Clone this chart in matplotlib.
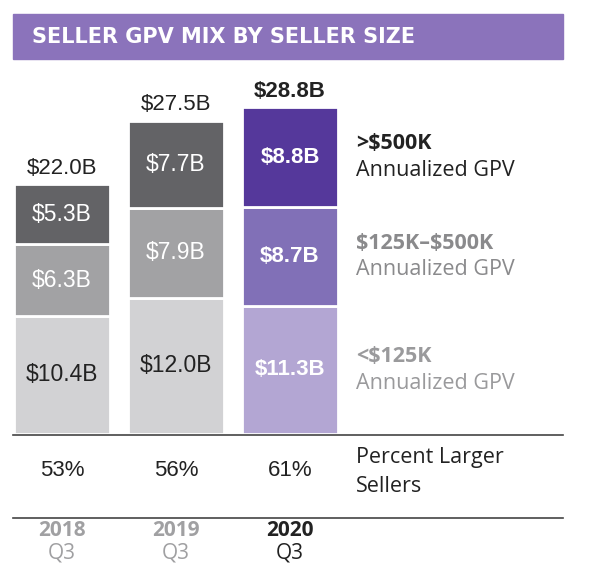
import matplotlib
matplotlib.use("Agg")
import matplotlib.pyplot as plt
from matplotlib.patches import Rectangle

# data
years = ["2018", "2019", "2020"]
quarters = ["Q3", "Q3", "Q3"]
small = [10.4, 12.0, 11.3]      # <$125K
mid = [6.3, 7.9, 8.7]           # $125K-$500K
large = [5.3, 7.7, 8.8]         # >$500K
totals = ["\\$22.0B", "\\$27.5B", "\\$28.8B"]
pct_larger = ["53%", "56%", "61%"]
seg_names = [">\\$500K", "\\$125K\u2013\\$500K", "<\\$125K"]

gray_cols = ["#d2d2d4", "#a2a2a4", "#636366"]
purple_cols = ["#b3a6d3", "#8170b7", "#55389b"]

W, H = 611, 580
fig = plt.figure(figsize=(W / 100, H / 100), dpi=100)
left, right, bottom, top = 13, 563, 434, 59
ax = fig.add_axes([left / W, 1 - bottom / H, (right - left) / W, (bottom - top) / H])
ax.set_xlim(-0.43, -0.43 + 550 / 114)
ax.set_ylim(0, 375 / 11.35)
ax.axis("off")

num_font = "Liberation Sans"
lab_font = "Open Sans"
bw = 0.84

def yfrac(ypix):
    return (bottom - ypix) / (bottom - top)

for i in range(3):
    cols = purple_cols if i == 2 else gray_cols
    segs = [small[i], mid[i], large[i]]
    base = 0
    for j, h in enumerate(segs):
        ax.bar(i, h, bottom=base, width=bw, color=cols[j], edgecolor="white", linewidth=2)
        if i == 2:
            ax.text(i, base + h / 2, f"\\${h:.1f}B", ha="center", va="center", color="white",
                    fontsize=16, fontweight="bold", family=num_font)
        else:
            tc = "#222222" if j == 0 else "white"
            ax.text(i, base + h / 2, f"\\${h:.1f}B", ha="center", va="center", color=tc,
                    fontsize=16.5, family=num_font)
        base += h
    ax.annotate(totals[i], xy=(i, base), xytext=(0, 4), textcoords="offset points",
                ha="center", va="bottom", fontsize=16,
                fontweight="bold" if i == 2 else "normal", color="#222222", family=num_font)

# segment labels to the right
lx = 2.58
name_cols = ["#222222", "#8a8a8c", "#9a9a9c"]
base = 0
centers = []
for h in [small[2], mid[2], large[2]]:
    centers.append(base + h / 2)
    base += h
for k, c in enumerate(reversed(centers)):
    ax.annotate(seg_names[k], xy=(lx, c), xytext=(0, 9.5), textcoords="offset points",
                ha="left", va="center", fontsize=15.5, fontweight="bold",
                color=name_cols[k], family=lab_font)
    ax.annotate("Annualized GPV", xy=(lx, c), xytext=(0, -9.5), textcoords="offset points",
                ha="left", va="center", fontsize=15.5, color=name_cols[k], family=lab_font)

# title banner
trans = ax.transAxes
ax.add_patch(Rectangle((0, 1.0), 1, yfrac(14) - 1.0, transform=trans,
                       color="#8b73bb", clip_on=False))
ax.text(19 / 550, yfrac(37), "SELLER GPV MIX BY SELLER SIZE", transform=trans,
        ha="left", va="center", color="white", fontsize=15, fontweight="bold",
        family="DejaVu Sans")

# rules
for yp in [435, 518]:
    ax.plot([0, 1], [yfrac(yp)] * 2, transform=trans, color="#444444", lw=1.2, clip_on=False)

xt = ax.get_xaxis_transform()
for i in range(3):
    ax.text(i, yfrac(471), pct_larger[i], transform=xt, ha="center", va="center",
            fontsize=16, color="#222222", family=num_font)
    yc = "#222222" if i == 2 else "#a0a0a2"
    ax.text(i, yfrac(531), years[i], transform=xt, ha="center", va="center",
            fontsize=15, fontweight="bold", color=yc, family=lab_font)
    ax.text(i, yfrac(553), quarters[i], transform=xt, ha="center", va="center",
            fontsize=15, color=yc, family=lab_font)
ax.text(lx, yfrac(458), "Percent Larger", transform=xt, ha="left", va="center",
        fontsize=15.5, color="#222222", family=lab_font)
ax.text(lx, yfrac(486), "Sellers", transform=xt, ha="left", va="center",
        fontsize=15.5, color="#222222", family=lab_font)

fig.savefig("out.png", dpi=100, facecolor="white")
